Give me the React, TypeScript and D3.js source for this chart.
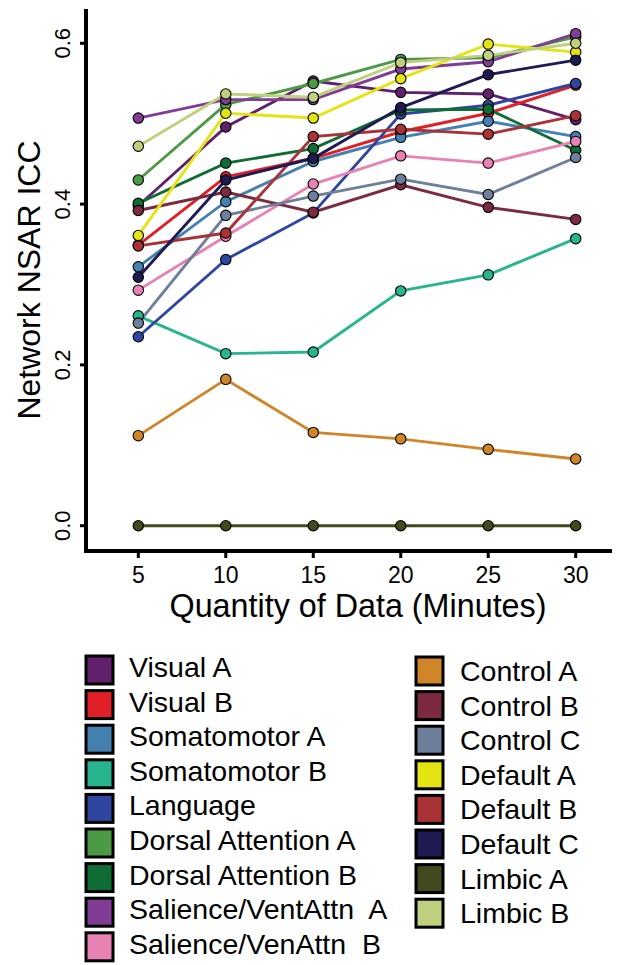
import React from 'react';
import * as d3 from 'd3';

// ==================== DATA ====================
const MINUTES = [5, 10, 15, 20, 25, 30];
const Y_TICKS = [0, 0.2, 0.4, 0.6];

const NETWORKS = [
  'Visual A', 'Visual B', 'Somatomotor A', 'Somatomotor B', 'Language',
  'Dorsal Attention A', 'Dorsal Attention B', 'Salience/VentAttn  A', 'Salience/VenAttn  B',
  'Control A', 'Control B', 'Control C', 'Default A', 'Default B', 'Default C',
  'Limbic A', 'Limbic B',
];

const NET_COLORS = [
  '#60206a', '#e01f26', '#4581b0', '#28b48e', '#30459f',
  '#4c9a46', '#0f6c35', '#813c96', '#e882b4',
  '#cf8528', '#7b2a40', '#6d7f9b', '#e4e413', '#a93237', '#1d1b52',
  '#404a1c', '#bfd07e',
];

// ICC per network, one value per quantity of data
const visualA = [0.398, 0.496, 0.553, 0.539, 0.537, 0.505];
const visualB = [0.349, 0.434, 0.457, 0.490, 0.513, 0.548];
const somatomotorA = [0.322, 0.403, 0.453, 0.483, 0.503, 0.484];
const somatomotorB = [0.261, 0.214, 0.216, 0.292, 0.312, 0.357];
const language = [0.235, 0.331, 0.389, 0.512, 0.523, 0.550];
const dorsalAttnA = [0.430, 0.524, 0.550, 0.580, 0.582, 0.608];
const dorsalAttnB = [0.401, 0.451, 0.469, 0.517, 0.518, 0.467];
const salienceA = [0.507, 0.530, 0.530, 0.568, 0.577, 0.612];
const salienceB = [0.293, 0.360, 0.425, 0.460, 0.451, 0.478];
const controlA = [0.112, 0.182, 0.116, 0.108, 0.095, 0.083];
const controlB = [0.392, 0.415, 0.390, 0.424, 0.396, 0.381];
const controlC = [0.252, 0.386, 0.410, 0.431, 0.412, 0.458];
const defaultA = [0.361, 0.513, 0.507, 0.556, 0.599, 0.589];
const defaultB = [0.348, 0.364, 0.484, 0.493, 0.487, 0.510];
const defaultC = [0.309, 0.430, 0.457, 0.520, 0.561, 0.579];
const limbicA = [0, 0, 0, 0, 0, 0];
const limbicB = [0.472, 0.537, 0.533, 0.576, 0.585, 0.600];

const SERIES = [
  visualA, visualB, somatomotorA, somatomotorB, language,
  dorsalAttnA, dorsalAttnB, salienceA, salienceB,
  controlA, controlB, controlC, defaultA, defaultB, defaultC,
  limbicA, limbicB,
];

// ==================== LAYOUT ====================
const W = 618;
const H = 965;
const FONT = "'Liberation Sans', Arial, sans-serif";
const AXIS_X = 86;
const AXIS_Y = 551;

export default function App() {
  const x = d3.scaleLinear().domain([5, 30]).range([138.3, 575.7]);
  const y = d3.scaleLinear().domain([0, 0.6]).range([525.7, 43.3]);

  const line = d3.line<number>()
    .x((_, i) => x(MINUTES[i]))
    .y(d => y(d));

  const leftCol = NETWORKS.slice(0, 9);
  const rightCol = NETWORKS.slice(9);
  const rowStep = 34.6;

  return (
    <svg width={W} height={H} style={{ position: 'absolute', left: 0, top: 0, background: '#fff' }}
      fontFamily={FONT}>
      {/* lines first, then points on top (ggplot order) */}
      {SERIES.map((vals, s) => (
        <path key={'l' + s} d={line(vals) || ''} fill="none" stroke={NET_COLORS[s]} strokeWidth={2.9} />
      ))}
      {SERIES.map((vals, s) => (
        <g key={'p' + s}>
          {vals.map((v, i) => (
            <circle key={i} cx={x(MINUTES[i])} cy={y(v)} r={5.2} fill={NET_COLORS[s]} stroke="#000" strokeWidth={1.1} />
          ))}
        </g>
      ))}

      {/* axes */}
      <line x1={AXIS_X} x2={AXIS_X} y1={9} y2={553} stroke="#000" strokeWidth={4} />
      <line x1={AXIS_X - 2} x2={612} y1={AXIS_Y} y2={AXIS_Y} stroke="#000" strokeWidth={4} />
      {Y_TICKS.map(t => (
        <g key={'yt' + t}>
          <line x1={AXIS_X - 6} x2={AXIS_X} y1={y(t)} y2={y(t)} stroke="#000" strokeWidth={3} />
          <text transform={`translate(70,${y(t)}) rotate(-90)`} textAnchor="middle" fontSize={22} fill="#000">
            {d3.format('.1f')(t)}
          </text>
        </g>
      ))}
      {MINUTES.map(m => (
        <g key={'xt' + m}>
          <line x1={x(m)} x2={x(m)} y1={AXIS_Y} y2={AXIS_Y + 7} stroke="#000" strokeWidth={3} />
          <text x={x(m)} y={583} textAnchor="middle" fontSize={23} fill="#000">{m}</text>
        </g>
      ))}
      <text x={358} y={617} textAnchor="middle" fontSize={32.3} fill="#000">Quantity of Data (Minutes)</text>
      <text transform={`translate(40,280) rotate(-90)`} textAnchor="middle" fontSize={32} fill="#000">
        Network NSAR ICC
      </text>

      {/* legend */}
      {leftCol.map((name, i) => (
        <g key={'lg' + i} transform={`translate(86,${656 + i * rowStep})`}>
          <rect x={0} y={0} width={27} height={28} fill={NET_COLORS[i]} stroke="#000" strokeWidth={3} />
          <text x={43} y={21} fontSize={28.5} fill="#000" style={{ whiteSpace: 'pre' }}>{name}</text>
        </g>
      ))}
      {rightCol.map((name, i) => (
        <g key={'rg' + i} transform={`translate(416,${657 + i * rowStep})`}>
          <rect x={0} y={0} width={27} height={28} fill={NET_COLORS[i + 9]} stroke="#000" strokeWidth={3} />
          <text x={44} y={24} fontSize={28.5} fill="#000" style={{ whiteSpace: 'pre' }}>{name}</text>
        </g>
      ))}
    </svg>
  );
}
